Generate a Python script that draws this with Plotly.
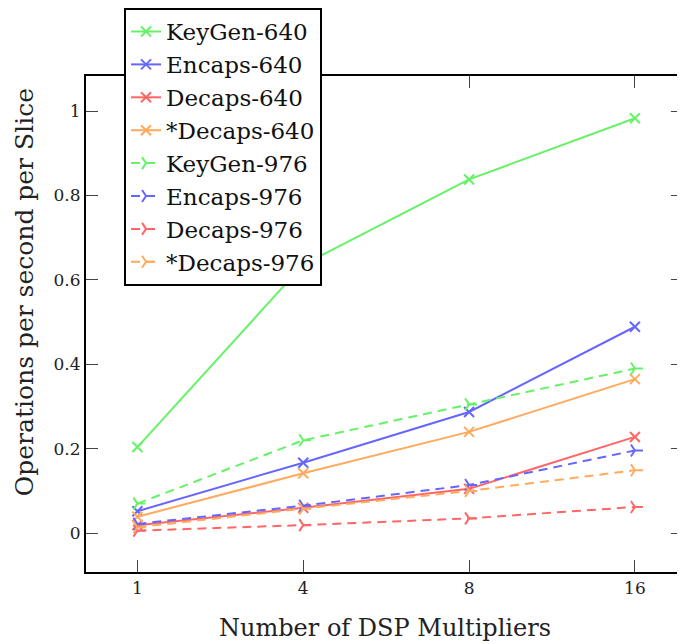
import plotly.graph_objects as go

dsp = ["1", "4", "8", "16"]

keygen_640 = [0.204, 0.636, 0.838, 0.983]
encaps_640 = [0.052, 0.167, 0.287, 0.489]
decaps_640 = [0.019, 0.060, 0.105, 0.228]
sdecaps_640 = [0.039, 0.142, 0.240, 0.365]
keygen_976 = [0.070, 0.220, 0.305, 0.390]
encaps_976 = [0.022, 0.065, 0.114, 0.196]
decaps_976 = [0.006, 0.019, 0.035, 0.062]
sdecaps_976 = [0.014, 0.058, 0.100, 0.149]

GREEN = "#66f266"
BLUE = "#6666ff"
RED = "#ff6666"
ORANGE = "#ffaa5e"

series = [
    ("KeyGen-640", keygen_640, GREEN, "solid", "x-thin"),
    ("Encaps-640", encaps_640, BLUE, "solid", "x-thin"),
    ("Decaps-640", decaps_640, RED, "solid", "x-thin"),
    ("*Decaps-640", sdecaps_640, ORANGE, "solid", "x-thin"),
    ("KeyGen-976", keygen_976, GREEN, "9px,6px", "y-right"),
    ("Encaps-976", encaps_976, BLUE, "9px,6px", "y-right"),
    ("Decaps-976", decaps_976, RED, "9px,6px", "y-right"),
    ("*Decaps-976", sdecaps_976, ORANGE, "9px,6px", "y-right"),
]

FONT = "DejaVu Serif"

fig = go.Figure()
for name, vals, col, dash, sym in series:
    fig.add_trace(go.Scatter(
        x=dsp, y=vals, name=name, mode="lines+markers",
        line=dict(color=col, width=2, dash=dash),
        marker=dict(symbol=sym, size=10, color=col, line=dict(color=col, width=2)),
    ))

fig.update_layout(
    width=677, height=636,
    margin=dict(l=78, r=2, t=68, b=72, autoexpand=False),
    paper_bgcolor="white", plot_bgcolor="white",
    font=dict(family=FONT, size=17, color="#222"),
    showlegend=True,
    legend=dict(
        x=0.0637, y=1.137, xanchor="left", yanchor="top",
        bgcolor="white", bordercolor="black", borderwidth=2,
        font=dict(family=FONT, size=23, color="#111"),
        tracegroupgap=0,
    ),
    xaxis=dict(
        type="category", range=[-0.31, 3.29],
        showline=True, linecolor="black", linewidth=2, mirror="ticks",
        ticks="inside", ticklen=12, tickwidth=1.2, tickcolor="#444",
        showgrid=False, zeroline=False,
        tickfont=dict(family=FONT, size=17, color="#222"),
    ),
    yaxis=dict(
        range=[-0.092, 1.083],
        tickvals=[0, 0.2, 0.4, 0.6, 0.8, 1],
        ticktext=["0", "0.2", "0.4", "0.6", "0.8", "1"],
        showline=True, linecolor="black", linewidth=2, mirror="ticks",
        ticks="inside", ticklen=12, tickwidth=1.2, tickcolor="#444",
        showgrid=False, zeroline=False,
        tickfont=dict(family=FONT, size=17, color="#222"),
    ),
    annotations=[
        dict(text="Number of DSP Multipliers", xref="paper", yref="paper",
             x=0.5, y=-0.113, xanchor="center", yanchor="middle", showarrow=False,
             font=dict(family=FONT, size=24, color="#222")),
        dict(text="Operations per second per Slice", xref="paper", yref="paper",
             x=-0.1035, y=0.5645, xanchor="center", yanchor="middle", showarrow=False,
             textangle=-90, font=dict(family=FONT, size=25, color="#222")),
    ],
)

fig.write_html("out.html")
